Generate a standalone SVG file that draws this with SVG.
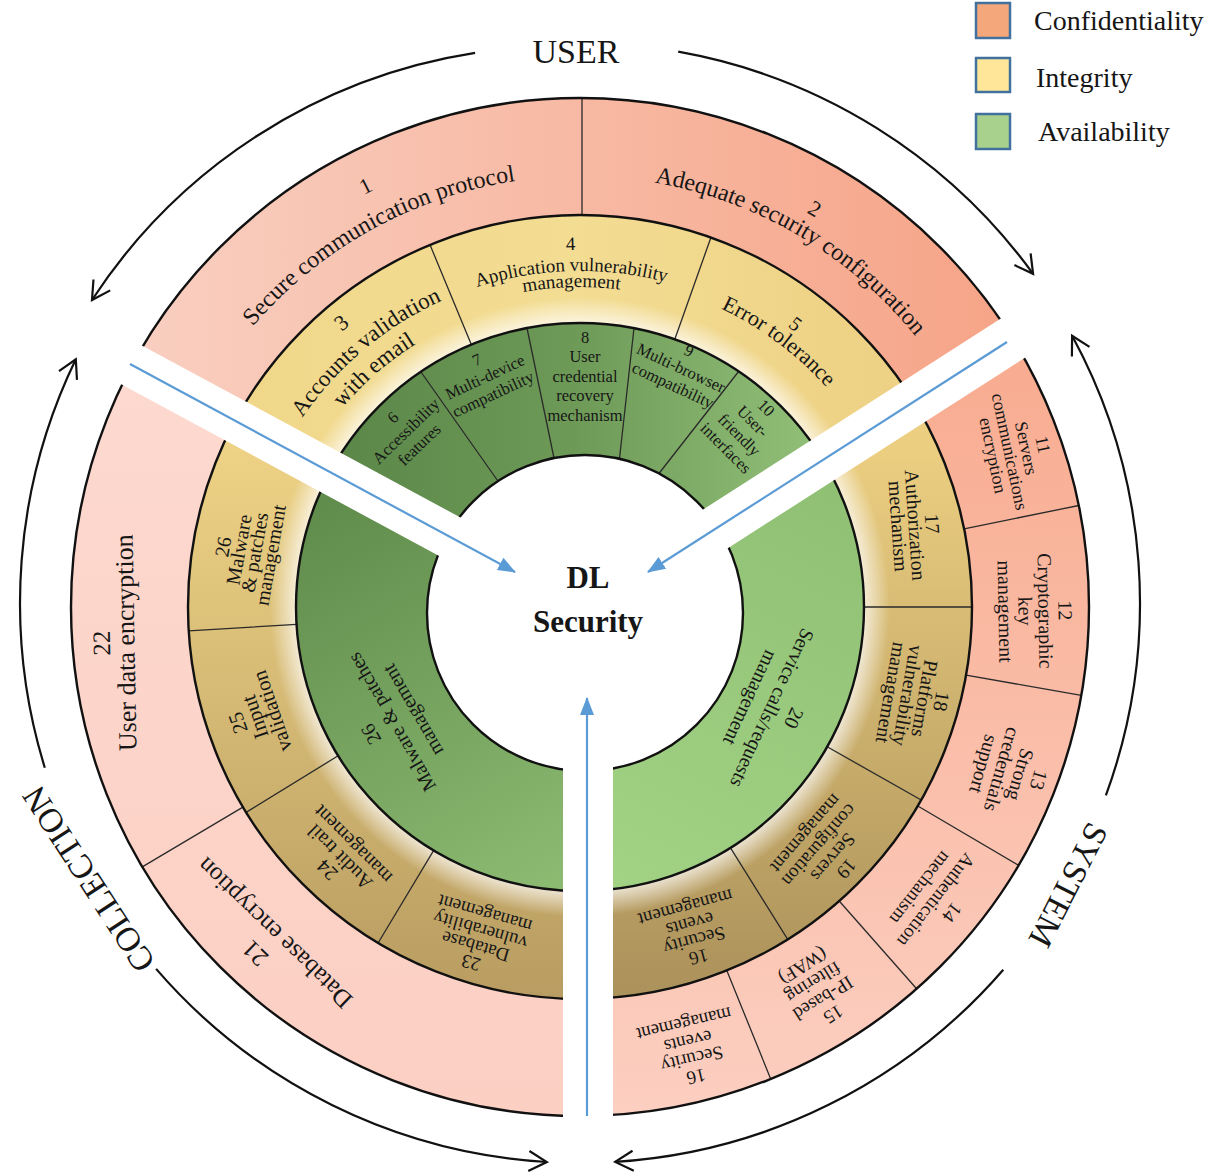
<svg xmlns="http://www.w3.org/2000/svg" width="1221" height="1174" viewBox="0 0 1221 1174">
<defs>
<style>
text { font-family: "Liberation Serif", "Times New Roman", serif; fill: #161616; }
.div { stroke: #2a2a2a; stroke-width: 1.3; fill: none; }
.ring { fill: none; stroke: #111; stroke-width: 2.4; }
.band { stroke: #fff; fill: none; }
.blue { stroke: #5B9BD5; stroke-width: 2.2; fill: none; marker-end: url(#blueHead); }
.arc { stroke: #111; stroke-width: 2.2; fill: none; marker-end: url(#openHead); }
.lab { font-size: 34px; }
.leg { font-size: 28px; }
.lg { stroke: #41719C; stroke-width: 2.5; }
.g { font-size: 16.5px; }
</style>
<linearGradient id="pinkTop" gradientUnits="userSpaceOnUse" x1="130" y1="0" x2="1010" y2="0"><stop offset="0" stop-color="#F9CFC1"/><stop offset="1" stop-color="#F6A487"/></linearGradient>
<linearGradient id="pinkRight" gradientUnits="userSpaceOnUse" x1="0" y1="340" x2="0" y2="1116"><stop offset="0" stop-color="#F8AB8F"/><stop offset="1" stop-color="#FCCFC1"/></linearGradient>
<linearGradient id="pinkLeft" gradientUnits="userSpaceOnUse" x1="0" y1="365" x2="0" y2="1116"><stop offset="0" stop-color="#FDD9CF"/><stop offset="1" stop-color="#FCCFC3"/></linearGradient>
<linearGradient id="yelTop" gradientUnits="userSpaceOnUse" x1="236" y1="0" x2="912" y2="0"><stop offset="0" stop-color="#F0D78A"/><stop offset="0.5" stop-color="#F3DD93"/><stop offset="1" stop-color="#EDD083"/></linearGradient>
<linearGradient id="yelRight" gradientUnits="userSpaceOnUse" x1="0" y1="450" x2="0" y2="990"><stop offset="0" stop-color="#EBCE80"/><stop offset="1" stop-color="#AC925B"/></linearGradient>
<linearGradient id="yelLeft" gradientUnits="userSpaceOnUse" x1="0" y1="420" x2="0" y2="1000"><stop offset="0" stop-color="#F0D587"/><stop offset="1" stop-color="#B89C61"/></linearGradient>
<linearGradient id="grnTop" gradientUnits="userSpaceOnUse" x1="330" y1="0" x2="820" y2="0"><stop offset="0" stop-color="#5A8648"/><stop offset="0.5" stop-color="#6E9A58"/><stop offset="1" stop-color="#92C078"/></linearGradient>
<linearGradient id="grnRight" gradientUnits="userSpaceOnUse" x1="820" y1="456" x2="600" y2="890"><stop offset="0" stop-color="#8FBF73"/><stop offset="1" stop-color="#A2D385"/></linearGradient>
<linearGradient id="grnLeft" gradientUnits="userSpaceOnUse" x1="330" y1="470" x2="580" y2="890"><stop offset="0" stop-color="#5E8A4A"/><stop offset="1" stop-color="#8DBC73"/></linearGradient>
<radialGradient id="glow" gradientUnits="userSpaceOnUse" cx="580" cy="607" r="392"><stop offset="0.72" stop-color="#fff" stop-opacity="0.75"/><stop offset="0.79" stop-color="#fff" stop-opacity="0"/></radialGradient>
<marker id="blueHead" markerUnits="userSpaceOnUse" markerWidth="18" markerHeight="14" viewBox="0 0 18 14" refX="17" refY="7" orient="auto"><path d="M0,0 L18,7 L0,14 Z" fill="#5B9BD5"/></marker>
<marker id="openHead" markerUnits="userSpaceOnUse" markerWidth="26" markerHeight="26" viewBox="0 0 26 26" refX="23" refY="13" orient="auto"><path d="M5,3 L23,13 L5,23" fill="none" stroke="#111" stroke-width="2.2"/></marker>
<path id="tp1n" d="M115.6,582.7 A465,465 0 0 1 833.3,217.0"/>
<path id="tp1" d="M149.1,599.5 A431,431 0 0 1 802.0,237.6"/>
<path id="tp2n" d="M355.9,211.0 A455,455 0 0 1 1035.0,611.0"/>
<path id="tp2" d="M367.8,231.9 A431,431 0 0 1 1011.0,610.8"/>
<path id="tp3n" d="M221.5,670.2 A364,364 0 0 1 704.5,265.0"/>
<path id="tp3a" d="M249.1,665.3 A336,336 0 0 1 694.9,291.3"/>
<path id="tp3b" d="M275.7,666.2 A310,310 0 0 1 680.9,313.9"/>
<path id="tp4n" d="M266.3,436.7 A357,357 0 0 1 884.4,420.5"/>
<path id="tp4a" d="M284.7,446.7 A336,336 0 0 1 866.5,431.4"/>
<path id="tp4b" d="M298.8,454.3 A320,320 0 0 1 852.8,439.8"/>
<path id="tp5n" d="M445.3,285.0 A349,349 0 0 1 926.2,651.3"/>
<path id="tp5" d="M450.0,303.7 A330,330 0 0 1 907.7,646.1"/>
</defs>

<rect width="1221" height="1174" fill="#fff"/>

<g id="rings">
  <g id="confidentiality-ring">
    <path d="M580,607 L132.3,364.9 A509,509 0 0 1 1011.7,337.3 Z" fill="url(#pinkTop)"/>
    <path d="M580,607 L1011.7,337.3 A509,509 0 0 1 580,1116 Z" fill="url(#pinkRight)"/>
    <path d="M580,607 L580,1116 A509,509 0 0 1 132.3,364.9 Z" fill="url(#pinkLeft)"/>
    <path class="div" d="M582,215 L582,98 M964.1,528.8 L1078.8,505.5 M966.0,675.1 L1081.3,695.4 M917.8,806.0 L1018.6,865.3 M839.2,901.0 L916.6,988.8 M726.8,970.5 L770.7,1078.9 M242.9,807.1 L142.3,866.9"/>
  </g>
  <g id="integrity-ring">
    <path d="M580,607 L235.2,420.6 A392,392 0 0 1 912.4,399.3 Z" fill="url(#yelTop)"/>
    <path d="M580,607 L912.4,399.3 A392,392 0 0 1 580,999 Z" fill="url(#yelRight)"/>
    <path d="M580,607 L580,999 A392,392 0 0 1 235.2,420.6 Z" fill="url(#yelLeft)"/>
    <circle cx="580" cy="607" r="392" fill="url(#glow)"/>
    <path class="div" d="M471.3,344.6 L430.0,244.8 M674.8,339.3 L710.9,237.5 M864,607 L972,607 M827.2,746.8 L921.2,800.0 M730.5,847.8 L787.7,939.4 M433.7,850.4 L378.1,943.0 M338.1,755.8 L246.1,812.4 M296.5,624.3 L188.7,630.9"/>
  </g>
  <g id="availability-ring">
    <path d="M580,607 L330.2,471.9 A284,284 0 0 1 820.8,456.5 Z" fill="url(#grnTop)"/>
    <path d="M580,607 L820.8,456.5 A284,284 0 0 1 580,891 Z" fill="url(#grnRight)"/>
    <path d="M580,607 L580,891 A284,284 0 0 1 330.2,471.9 Z" fill="url(#grnLeft)"/>
    <path class="div" d="M500,484 L421,372 M555,463 L527,328 M619,463 L634,328 M657,476 L739,371"/>
  </g>
  <circle class="ring" cx="580" cy="607" r="509"/>
  <circle class="ring" cx="580" cy="607" r="392"/>
  <circle class="ring" cx="580" cy="607" r="284"/>
  <circle id="core" cx="585" cy="613" r="158" fill="#fff" stroke="#111" stroke-width="2.4"/>
  <g id="gaps">
    <line class="band" x1="52" y1="322" x2="580" y2="607" stroke-width="44"/>
    <line class="band" x1="1052" y1="313" x2="589" y2="610" stroke-width="46"/>
    <line class="band" x1="588" y1="1140" x2="588" y2="607" stroke-width="50"/>
  </g>
</g>

<g id="connectors">
  <line class="blue" x1="130" y1="364" x2="515" y2="572"/>
  <line class="blue" x1="1007" y1="342" x2="648" y2="572"/>
  <line class="blue" x1="587" y1="1116" x2="587" y2="698"/>
  <path class="arc" d="M475.1,52.9 A560,560 0 0 0 92,300"/>
  <path class="arc" d="M678.2,51.7 A560,560 0 0 1 1033.1,273.8"/>
  <path class="arc" d="M1105.9,795.4 A560,560 0 0 0 1072.1,335.8"/>
  <path class="arc" d="M1003.3,969.7 A560,560 0 0 1 615.2,1161.9"/>
  <path class="arc" d="M156.1,968.9 A560,560 0 0 0 546.8,1162"/>
  <path class="arc" d="M44.8,767.7 A560,560 0 0 1 75.8,359.3"/>
</g>

<g id="center">
  <text x="588" y="588" font-size="31" font-weight="bold" text-anchor="middle">DL</text>
  <text x="588" y="632" font-size="31" font-weight="bold" text-anchor="middle">Security</text>
</g>

<g id="n1"><text font-size="22" text-anchor="middle"><textPath href="#tp1n" startOffset="50%">1</textPath></text><text font-size="24" text-anchor="middle"><textPath href="#tp1" startOffset="50%">Secure communication protocol</textPath></text></g>
<g id="n2"><text font-size="22" text-anchor="middle"><textPath href="#tp2n" startOffset="50%">2</textPath></text><text font-size="24" text-anchor="middle"><textPath href="#tp2" startOffset="50%">Adequate security configuration</textPath></text></g>
<g id="n3"><text font-size="22" text-anchor="middle"><textPath href="#tp3n" startOffset="50%">3</textPath></text><text font-size="23" text-anchor="middle"><textPath href="#tp3a" startOffset="50%">Accounts validation</textPath></text><text font-size="23" text-anchor="middle"><textPath href="#tp3b" startOffset="50%">with email</textPath></text></g>
<g id="n4"><text font-size="19" text-anchor="middle"><textPath href="#tp4n" startOffset="50%">4</textPath></text><text font-size="19" text-anchor="middle"><textPath href="#tp4a" startOffset="50%">Application vulnerability</textPath></text><text font-size="19" text-anchor="middle"><textPath href="#tp4b" startOffset="50%">management</textPath></text></g>
<g id="n5"><text font-size="20" text-anchor="middle"><textPath href="#tp5n" startOffset="50%">5</textPath></text><text font-size="22" text-anchor="middle"><textPath href="#tp5" startOffset="50%">Error tolerance</textPath></text></g>

<g id="n6"><text class="g" text-anchor="middle" transform="translate(406,431) rotate(-44)"><tspan x="0" y="-13.5">6</tspan><tspan x="0" y="5.5">Accessibility</tspan><tspan x="0" y="24.5">features</tspan></text></g>
<g id="n7"><text class="g" text-anchor="middle" transform="translate(485,377) rotate(-25)"><tspan x="0" y="-13.5">7</tspan><tspan x="0" y="5.5">Multi-device</tspan><tspan x="0" y="24.5">compatibility</tspan></text></g>
<g id="n8"><text class="g" text-anchor="middle" transform="translate(585,376)"><tspan x="0" y="-33.5">8</tspan><tspan x="0" y="-14">User</tspan><tspan x="0" y="5.5">credential</tspan><tspan x="0" y="25">recovery</tspan><tspan x="0" y="44.5">mechanism</tspan></text></g>
<g id="n9"><text class="g" text-anchor="middle" transform="translate(681,368) rotate(25)"><tspan x="0" y="-13.5">9</tspan><tspan x="0" y="5.5">Multi-browser</tspan><tspan x="0" y="24.5">compatibility</tspan></text></g>
<g id="n10"><text class="g" text-anchor="middle" transform="translate(746,428) rotate(45)"><tspan x="0" y="-23">10</tspan><tspan x="0" y="-4">User-</tspan><tspan x="0" y="15">friendly</tspan><tspan x="0" y="34">interfaces</tspan></text></g>

<g id="n11"><text font-size="18" text-anchor="middle" transform="translate(1018,450) rotate(78)"><tspan x="0" y="-19.5">11</tspan><tspan x="0" y="-2.5">Servers</tspan><tspan x="0" y="14.5">communications</tspan><tspan x="0" y="31.5">encryption</tspan></text></g>
<g id="n12"><text font-size="20" text-anchor="middle" transform="translate(1035,611) rotate(89)"><tspan x="0" y="-23.5">12</tspan><tspan x="0" y="-3.5">Cryptographic</tspan><tspan x="0" y="16.5">key</tspan><tspan x="0" y="36.5">management</tspan></text></g>
<g id="n13"><text font-size="20" text-anchor="middle" transform="translate(1011,772) rotate(106)"><tspan x="0" y="-22">13</tspan><tspan x="0" y="-3">Strong</tspan><tspan x="0" y="16">credentials</tspan><tspan x="0" y="35">support</tspan></text></g>
<g id="n14"><text font-size="19" text-anchor="middle" transform="translate(936,900) rotate(128)"><tspan x="0" y="-14">14</tspan><tspan x="0" y="6">Authentication</tspan><tspan x="0" y="26">mechanism</tspan></text></g>
<g id="n15"><text font-size="19" text-anchor="middle" transform="translate(818,990) rotate(148)"><tspan x="0" y="-22.5">15</tspan><tspan x="0" y="-3.5">IP-based</tspan><tspan x="0" y="15.5">filtering</tspan><tspan x="0" y="34.5">(WAF)</tspan></text></g>
<g id="n16a"><text font-size="19" text-anchor="middle" transform="translate(690,1050) rotate(167)"><tspan x="0" y="-21">16</tspan><tspan x="0" y="-3">Security</tspan><tspan x="0" y="15">events</tspan><tspan x="0" y="33">management</tspan></text></g>

<g id="n17"><text font-size="20" text-anchor="middle" transform="translate(915,525) rotate(86)"><tspan x="0" y="-10.5">17</tspan><tspan x="0" y="6.5">Authorization</tspan><tspan x="0" y="23.5">mechanism</tspan></text></g>
<g id="n18"><text font-size="20" text-anchor="middle" transform="translate(916,697) rotate(100)"><tspan x="0" y="-19">18</tspan><tspan x="0" y="-2">Platforms</tspan><tspan x="0" y="15">vulnerability</tspan><tspan x="0" y="32">management</tspan></text></g>
<g id="n19"><text font-size="19" text-anchor="middle" transform="translate(826,851) rotate(131)"><tspan x="0" y="-21">19</tspan><tspan x="0" y="-3">Servers</tspan><tspan x="0" y="15">configuration</tspan><tspan x="0" y="33">management</tspan></text></g>
<g id="n16b"><text font-size="19" text-anchor="middle" transform="translate(692,932) rotate(165)"><tspan x="0" y="-19.5">16</tspan><tspan x="0" y="-2.5">Security</tspan><tspan x="0" y="14.5">events</tspan><tspan x="0" y="31.5">management</tspan></text></g>
<g id="n20"><text font-size="20" text-anchor="middle" transform="translate(772,708) rotate(115)"><tspan x="0" y="-17.5">20</tspan><tspan x="0" y="6.5">Service calls/requests</tspan><tspan x="0" y="30.5">management</tspan></text></g>

<g id="n21"><text font-size="25" text-anchor="middle" transform="translate(265,943) rotate(224)"><tspan x="0" y="-6">21</tspan><tspan x="0" y="22">Database encryption</tspan></text></g>
<g id="n22"><text text-anchor="middle" transform="translate(114,643) rotate(-91)"><tspan x="0" y="-4" font-size="25">22</tspan><tspan x="0" y="20.5" font-size="26">User data encryption</tspan></text></g>
<g id="n23"><text font-size="19" text-anchor="middle" transform="translate(478,938) rotate(196)"><tspan x="0" y="-19.5">23</tspan><tspan x="0" y="-2.5">Database</tspan><tspan x="0" y="14.5">vulnerability</tspan><tspan x="0" y="31.5">management</tspan></text></g>
<g id="n24"><text font-size="20" text-anchor="middle" transform="translate(340,857) rotate(225)"><tspan x="0" y="-11.5">24</tspan><tspan x="0" y="6.5">Audit trail</tspan><tspan x="0" y="24.5">management</tspan></text></g>
<g id="n25"><text font-size="21" text-anchor="middle" transform="translate(255,717) rotate(251)"><tspan x="0" y="-11">25</tspan><tspan x="0" y="7">Input</tspan><tspan x="0" y="25">validation</tspan></text></g>
<g id="n26a"><text font-size="20" text-anchor="middle" transform="translate(247,551) rotate(-80)"><tspan x="0" y="-17.5">26</tspan><tspan x="0" y="-1.5">Malware</tspan><tspan x="0" y="14.5">&amp; patches</tspan><tspan x="0" y="30.5">management</tspan></text></g>
<g id="n26b"><text font-size="20" text-anchor="middle" transform="translate(392,722) rotate(240)"><tspan x="0" y="-17.5">26</tspan><tspan x="0" y="6.5">Malware &amp; patches</tspan><tspan x="0" y="30.5">management</tspan></text></g>

<g id="labels">
  <text class="lab" text-anchor="middle" x="576" y="63">USER</text>
  <text class="lab" text-anchor="middle" transform="translate(1068,885) rotate(117)" y="11">SYSTEM</text>
  <text class="lab" text-anchor="middle" transform="translate(89,879) rotate(237)" y="11">COLLECTION</text>
</g>

<g id="legend">
  <rect class="lg" x="976" y="3" width="34" height="35" fill="#F4A77A"/>
  <rect class="lg" x="976" y="58" width="34" height="34" fill="#FFE699"/>
  <rect class="lg" x="976" y="114" width="34" height="35" fill="#A9D18E"/>
  <text class="leg" x="1034" y="30">Confidentiality</text>
  <text class="leg" x="1036" y="87">Integrity</text>
  <text class="leg" x="1038" y="141">Availability</text>
</g>
</svg>
